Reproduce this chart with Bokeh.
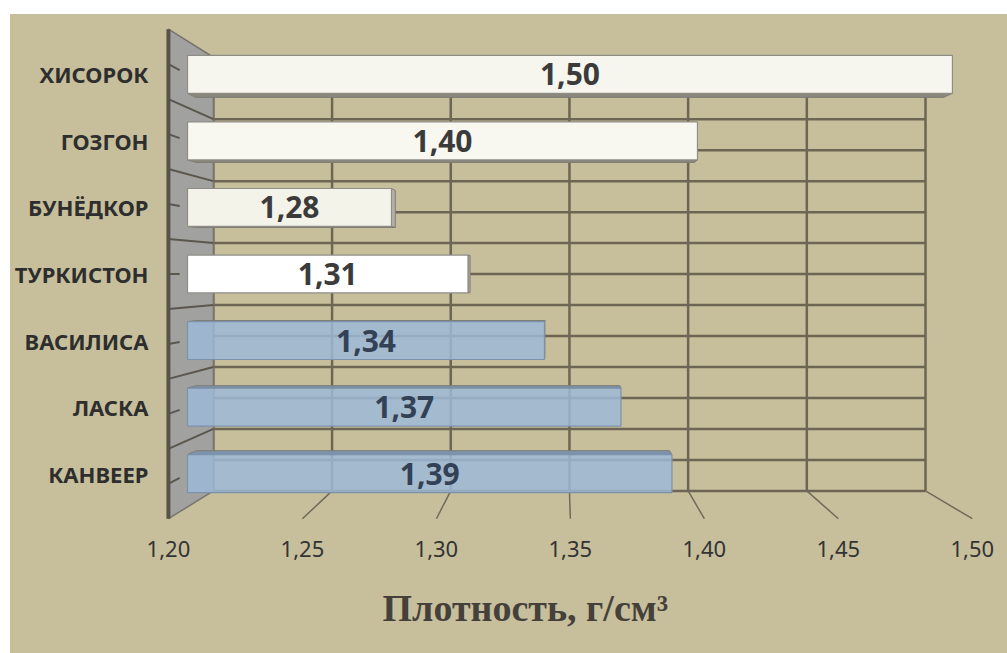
from bokeh.plotting import figure
from bokeh.models import Range1d, LinearAxis, FixedTicker, CustomJSTickFormatter, Spacer, Title
from bokeh.layouts import column, row
from bokeh.core.properties import value
from bokeh.embed import file_html
from bokeh.resources import INLINE

# ---- data ----
categories = ["ХИСОРОК", "ГОЗГОН", "БУНЁДКОР", "ТУРКИСТОН", "ВАСИЛИСА", "ЛАСКА", "КАНВЕЕР"]
density = [1.50, 1.40, 1.28, 1.31, 1.34, 1.37, 1.39]
x_ticks = [1.20, 1.25, 1.30, 1.35, 1.40, 1.45, 1.50]
axis_min, axis_max = 1.20, 1.50
x_title = "Плотность, г/см³"

# ---- styles ----
BG = "#C7BF9B"
GRID = "#6E6654"
bar_fill = ["#F7F6EE", "#F8F7F0", "#F4F3EA", "#FFFFFF", "#9DB8D7", "#9DB8D7", "#9DB8D7"]
bar_alpha = [1.0, 1.0, 1.0, 1.0, 0.85, 0.85, 0.85]
bar_line = ["#8F8E86", "#8F8E86", "#8F8E86", "#8F8E86", "#7C92AC", "#7C92AC", "#7C92AC"]
bar_side = ["#8A877C", "#8A877C", "#9A988E", "#B9B7AE", "#7D93AD", "#7D93AD", "#7D93AD"]
label_color = ["#3B3B3B", "#3B3B3B", "#3B3B3B", "#3B3B3B", "#334155", "#334155", "#334155"]

# ---- simple perspective: depth factors relative to the bars' front plane ----
VX, VY = 1.347, 3.015          # vanishing point (value units, category units)
D_BACK, D_BAR, D_EDGE = 0.931, 0.978, 1.051
HALF = 0.285                   # half bar thickness in category units
n = len(categories)
c_top, c_bot = -0.5, n - 0.5


def proj(v, c, d):
    return VX + d * (v - VX), VY + d * (c - VY)


x0, x1 = 1.1894, 1.5216
p = figure(width=997, height=639,
           x_range=Range1d(x0, x1), y_range=Range1d(6.8396, -0.9),
           x_axis_type=None, y_axis_type=None,
           output_backend="svg", toolbar_location=None,
           min_border_left=150, min_border_right=0,
           min_border_top=0, min_border_bottom=123,
           background_fill_color=BG, border_fill_color=BG,
           outline_line_color=None)
p.styles = {"background-color": BG}
p.extra_x_ranges = {"edge": Range1d(VX + (x0 - VX) / D_EDGE, VX + (x1 - VX) / D_EDGE)}

# ---- back wall grid ----
gx0, gy0, gx1, gy1 = [], [], [], []
k = 0
while c_top + 0.5 * k <= c_bot + 1e-9:
    r = c_top + 0.5 * k
    a, b = proj(axis_min, r, D_BACK)
    e, f = proj(axis_max, r, D_BACK)
    gx0.append(a); gy0.append(b); gx1.append(e); gy1.append(f)
    k += 1
for t in x_ticks:
    a, b = proj(t, c_top, D_BACK)
    e, f = proj(t, c_bot, D_BACK)
    gx0.append(a); gy0.append(b); gx1.append(e); gy1.append(f)
p.segment(gx0, gy0, gx1, gy1, line_color=GRID, line_width=2.5)

# ---- floor ticks ----
fx0, fy0, fx1, fy1 = [], [], [], []
for t in x_ticks[1:]:
    a, b = proj(t, c_bot, D_BACK)
    e, f = proj(t, c_bot, D_EDGE)
    fx0.append(a); fy0.append(b); fx1.append(e); fy1.append(f)
p.segment(fx0, fy0, fx1, fy1, line_color="#6F6A5A", line_width=1.5)

# ---- side wall ----
corners = [proj(axis_min, c_top, D_EDGE), proj(axis_min, c_bot, D_EDGE),
           proj(axis_min, c_bot, D_BACK), proj(axis_min, c_top, D_BACK)]
p.patch([q[0] for q in corners], [q[1] for q in corners],
        fill_color="#A1A1A0", line_color="#77756E", line_width=1.5)
sx0, sy0, sx1, sy1 = [], [], [], []
for i in range(1, n):
    a, b = proj(axis_min, i - 0.5, D_EDGE)
    e, f = proj(axis_min, i - 0.5, D_BACK)
    sx0.append(a); sy0.append(b); sx1.append(e); sy1.append(f)
for i in range(n):
    a, b = proj(axis_min, i, D_EDGE)
    e, f = proj(axis_min, i, D_EDGE - 0.03)
    sx0.append(a); sy0.append(b); sx1.append(e); sy1.append(f)
p.segment(sx0, sy0, sx1, sy1, line_color="#5B574D", line_width=2)
ea, eb = proj(axis_min, c_top, D_EDGE)
ec, ed = proj(axis_min, c_bot, D_EDGE)
p.segment([ea], [eb], [ec], [ed], line_color="#57534A", line_width=4)

# ---- bar side faces ----
face_xs, face_ys, face_col = [], [], []
for i, v in enumerate(density):
    up, lo = i - HALF, i + HALF
    if up > VY:  # top face visible
        pts = [(axis_min, up), (v, up)]
        pts += [proj(v, up, D_BAR), proj(axis_min, up, D_BAR)]
        face_xs.append([q[0] for q in pts]); face_ys.append([q[1] for q in pts]); face_col.append(bar_side[i])
    if lo < VY:  # bottom face visible
        pts = [(axis_min, lo), (v, lo)]
        pts += [proj(v, lo, D_BAR), proj(axis_min, lo, D_BAR)]
        face_xs.append([q[0] for q in pts]); face_ys.append([q[1] for q in pts]); face_col.append(bar_side[i])
    if v < VX:  # right end face visible
        pts = [(v, up), (v, lo), proj(v, lo, D_BAR), proj(v, up, D_BAR)]
        face_xs.append([q[0] for q in pts]); face_ys.append([q[1] for q in pts]); face_col.append("#B4B2A8")
p.patches(face_xs, face_ys, fill_color=face_col, line_color="#7E7C74", line_width=1)

# ---- bar front faces ----
idx = list(range(n))
p.quad(left=[axis_min] * n, right=density,
       top=[i - HALF for i in idx], bottom=[i + HALF for i in idx],
       fill_color=bar_fill, fill_alpha=bar_alpha, line_color=bar_line, line_width=1.2)

labels = [f"{v:.2f}".replace(".", ",") for v in density]
p.text(x=[(axis_min + v) / 2 for v in density], y=idx, text=labels,
       text_font=value("Noto Sans"), text_font_style="bold", text_font_size="30px",
       text_align="center", text_baseline="middle", text_color=label_color)

# ---- axes ----
xaxis = LinearAxis(x_range_name="edge", ticker=FixedTicker(ticks=x_ticks),
                   formatter=CustomJSTickFormatter(code="return tick.toFixed(2).replace('.', ',')"))
xaxis.axis_line_color = None
xaxis.major_tick_line_color = None
xaxis.minor_tick_line_color = None
xaxis.major_tick_in = 0
xaxis.major_tick_out = 0
xaxis.major_label_standoff = 11
xaxis.major_label_text_font = "Noto Sans"
xaxis.major_label_text_font_size = "22px"
xaxis.major_label_text_color = "#333333"
p.add_layout(xaxis, "below")

p.add_layout(Title(text=x_title, align="left", offset=222, standoff=50,
                   text_font="Liberation Serif", text_font_style="bold",
                   text_font_size="38px", text_color="#45413A"), "below")

yaxis = LinearAxis(ticker=FixedTicker(ticks=idx),
                   formatter=CustomJSTickFormatter(args=dict(names=categories),
                                                   code="return names[Math.round(tick)] || ''"))
yaxis.axis_line_color = None
yaxis.major_tick_line_color = None
yaxis.minor_tick_line_color = None
yaxis.major_tick_in = 0
yaxis.major_tick_out = 0
yaxis.major_label_standoff = 12
yaxis.major_label_text_font = "Noto Sans"
yaxis.major_label_text_font_style = "bold"
yaxis.major_label_text_font_size = "22px"
yaxis.major_label_text_color = "#2E2E2E"
p.add_layout(yaxis, "left")

layout = column(Spacer(width=1007, height=14),
                row(Spacer(width=10, height=639), p))

open("out.html", "w").write(file_html(layout, INLINE))
